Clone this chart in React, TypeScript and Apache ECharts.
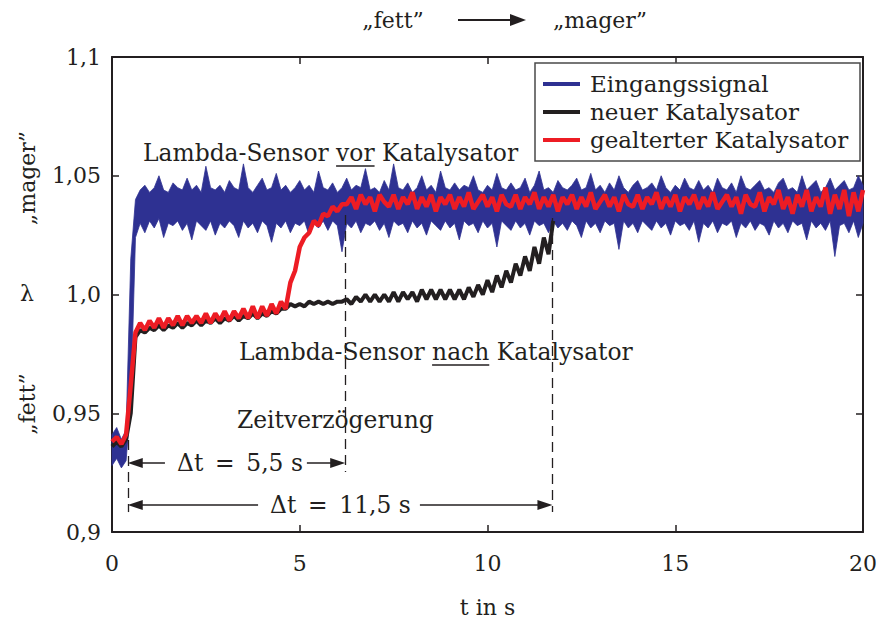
import React, { useEffect, useRef } from "react";
import * as echarts from "echarts";

// sampling step of all traces (s)
const DT = 0.125;

// Eingangssignal: upper and lower edge of the noisy band (lambda)
const blueHi = [
  0.941, 0.944, 0.939, 0.943, 1.015, 1.04,
  1.044, 1.046, 1.043, 1.045, 1.05, 1.044, 1.043, 1.047, 1.045, 1.044,
  1.049, 1.044, 1.046, 1.043, 1.054, 1.045, 1.044, 1.046, 1.043, 1.048,
  1.045, 1.044, 1.055, 1.045, 1.043, 1.046, 1.049, 1.044, 1.045, 1.051,
  1.044, 1.046, 1.043, 1.045, 1.048, 1.044, 1.046, 1.043, 1.052, 1.045,
  1.044, 1.047, 1.043, 1.045, 1.049, 1.044, 1.046, 1.045, 1.053, 1.044,
  1.045, 1.043, 1.048, 1.044, 1.055, 1.045, 1.044, 1.047, 1.043, 1.045,
  1.05, 1.044, 1.046, 1.043, 1.052, 1.045, 1.044, 1.047, 1.044, 1.046,
  1.045, 1.05, 1.044, 1.043, 1.046, 1.044, 1.051, 1.045, 1.044, 1.047,
  1.044, 1.045, 1.049, 1.043, 1.046, 1.052, 1.044, 1.045, 1.043, 1.048,
  1.045, 1.044, 1.046, 1.049, 1.044, 1.045, 1.051, 1.044, 1.046, 1.043,
  1.047, 1.044, 1.05, 1.045, 1.043, 1.046, 1.048, 1.044, 1.045, 1.047,
  1.044, 1.05, 1.045, 1.043, 1.046, 1.044, 1.049, 1.045, 1.044, 1.048,
  1.044, 1.046, 1.043, 1.049, 1.045, 1.044, 1.047, 1.043, 1.05, 1.045,
  1.044, 1.046, 1.048, 1.044, 1.045, 1.043, 1.047, 1.049, 1.044, 1.045,
  1.043, 1.05, 1.044, 1.046, 1.048, 1.043, 1.045, 1.049, 1.044, 1.046,
  1.048, 1.044, 1.045, 1.05, 1.046,
];
const blueLo = [
  0.928, 0.931, 0.927, 0.93, 0.955, 1.024,
  1.03, 1.026, 1.031, 1.028, 1.032, 1.024, 1.03, 1.029, 1.031, 1.027,
  1.03, 1.023, 1.031, 1.029, 1.027, 1.031, 1.025, 1.03, 1.028, 1.031,
  1.029, 1.024, 1.031, 1.028, 1.03, 1.026, 1.031, 1.029, 1.022, 1.03,
  1.028, 1.031, 1.026, 1.03, 1.029, 1.031, 1.025, 1.03, 1.028, 1.031,
  1.027, 1.031, 1.029, 1.018, 1.03, 1.028, 1.031, 1.026, 1.03, 1.029,
  1.031, 1.027, 1.03, 1.024, 1.031, 1.029, 1.03, 1.026, 1.031, 1.028,
  1.03, 1.025, 1.031, 1.029, 1.027, 1.031, 1.028, 1.03, 1.023, 1.031,
  1.029, 1.03, 1.026, 1.031, 1.028, 1.03, 1.02, 1.031, 1.029, 1.027,
  1.031, 1.028, 1.03, 1.025, 1.031, 1.029, 1.03, 1.026, 1.031, 1.028,
  1.03, 1.027, 1.031, 1.029, 1.024, 1.031, 1.028, 1.03, 1.026, 1.031,
  1.029, 1.03, 1.019, 1.031, 1.028, 1.03, 1.026, 1.031, 1.029, 1.027,
  1.031, 1.028, 1.03, 1.025, 1.031, 1.029, 1.03, 1.027, 1.031, 1.022,
  1.03, 1.028, 1.031, 1.026, 1.03, 1.029, 1.031, 1.024, 1.03, 1.028,
  1.031, 1.027, 1.03, 1.029, 1.025, 1.031, 1.028, 1.03, 1.026, 1.031,
  1.029, 1.03, 1.023, 1.031, 1.028, 1.03, 1.027, 1.031, 1.016, 1.029,
  1.03, 1.026, 1.031, 1.024, 1.03,
];

// gealterter Katalysator
const redLambda = [
  0.938, 0.94, 0.937, 0.941, 0.962, 0.984, 0.988, 0.985, 0.989, 0.986,
  0.99, 0.986, 0.99, 0.987, 0.991, 0.987, 0.991, 0.988, 0.991, 0.988,
  0.992, 0.988, 0.992, 0.989, 0.993, 0.989, 0.993, 0.99, 0.994, 0.99,
  0.995, 0.99, 0.995, 0.991, 0.996, 0.992, 0.997, 0.994, 1.005, 1.01,
  1.02, 1.024, 1.026, 1.031, 1.029, 1.034, 1.033, 1.037, 1.035, 1.038,
  1.038,
  1.041, 1.036, 1.042, 1.038, 1.041, 1.035, 1.042, 1.039, 1.037, 1.042,
  1.036, 1.041, 1.038, 1.043, 1.036, 1.041, 1.037, 1.042, 1.035, 1.041,
  1.038, 1.042, 1.036, 1.041, 1.037, 1.043, 1.036, 1.039, 1.042, 1.037,
  1.041, 1.035, 1.042, 1.038, 1.037, 1.042, 1.036, 1.041, 1.038, 1.043,
  1.036, 1.041, 1.037, 1.042, 1.035, 1.041, 1.038, 1.042, 1.036, 1.041,
  1.037, 1.043, 1.036, 1.039, 1.042, 1.037, 1.041, 1.035, 1.042, 1.038,
  1.037, 1.042, 1.036, 1.041, 1.038, 1.043, 1.036, 1.041, 1.037, 1.042,
  1.035, 1.041, 1.038, 1.042, 1.036, 1.041, 1.037, 1.043, 1.036, 1.039,
  1.042, 1.037, 1.041, 1.034, 1.042, 1.038, 1.037, 1.043, 1.035, 1.041,
  1.038, 1.044, 1.036, 1.041, 1.034, 1.042, 1.037, 1.044, 1.035, 1.041,
  1.037, 1.045, 1.034, 1.042, 1.036, 1.044, 1.033, 1.043, 1.035, 1.044,
];

// neuer Katalysator
const blackLambda = [
  0.936, 0.938, 0.936, 0.939, 0.95, 0.982, 0.985, 0.984, 0.986, 0.985,
  0.987, 0.985, 0.987, 0.986, 0.988, 0.986, 0.988, 0.987, 0.989, 0.987,
  0.989, 0.988, 0.99, 0.988, 0.99, 0.989, 0.991, 0.989, 0.991, 0.99,
  0.992, 0.99, 0.992, 0.991, 0.993, 0.992, 0.994, 0.994, 0.996, 0.995,
  0.996, 0.995, 0.997, 0.996, 0.997, 0.996, 0.997, 0.996, 0.997, 0.997,
  0.998, 0.996, 0.999, 0.997, 1.0, 0.997, 1.0, 0.997, 1.0, 0.997,
  1.001, 0.997, 1.001, 0.998, 1.001, 0.997, 1.002, 0.998, 1.002, 0.998,
  1.002, 0.998, 1.002, 0.998, 1.002, 0.998, 1.003, 0.999, 1.004, 1.0,
  1.006, 1.001, 1.008, 1.003, 1.01, 1.005, 1.013, 1.008, 1.016, 1.01,
  1.02, 1.013, 1.024, 1.017, 1.031,
];

// annotation positions (s / lambda)
const dashTimes = [0.43, 6.2, 11.72];
const dashFrom = [0.9387, 1.0335, 1.0322];
const dashTo = [0.9084, 0.9253, 0.9084];
const arrowLevels = [0.9291, 0.9114];
const xTickLabels = ["0", "5", "10", "15", "20"];
const yTickLabels = ["0,9", "0,95", "1,0", "1,05", "1,1"];

const FONT = "DejaVu Serif";
const INK = "#231f20";
const BLUE = "#2e3192";
const RED = "#ed1c24";

function measure(text: string, size: number) {
  const c = document.createElement("canvas").getContext("2d");
  if (!c) return text.length * size * 0.6;
  c.font = `${size}px "${FONT}"`;
  return c.measureText(text).width;
}

export default function App() {
  const ref = useRef<HTMLDivElement>(null);
  useEffect(() => {
    if (!ref.current) return;
    const chart = echarts.init(ref.current, null, { renderer: "svg" });

    const bandData = blueHi.map((v, i) => [i * DT, blueLo[i], v]);
    const redData = redLambda.map((v, i) => [i * DT, v]);
    const blackData = blackLambda.map((v, i) => [i * DT, v]);

    const dashLines = dashTimes.map((t, i) => [
      { coord: [t, dashFrom[i]] },
      { coord: [t, dashTo[i]] },
    ]);
    const arrowHead = { symbol: "triangle", symbolSize: [10, 15] };
    const arrowLines = [
      [{ coord: [0.62, arrowLevels[0]], ...arrowHead }, { coord: [1.41, arrowLevels[0]], symbol: "none" }],
      [{ coord: [5.19, arrowLevels[0]], symbol: "none" }, { coord: [6.01, arrowLevels[0]], ...arrowHead }],
      [{ coord: [0.62, arrowLevels[1]], ...arrowHead }, { coord: [3.89, arrowLevels[1]], symbol: "none" }],
      [{ coord: [8.2, arrowLevels[1]], symbol: "none" }, { coord: [11.53, arrowLevels[1]], ...arrowHead }],
    ];

    const TS = 23.4;
    const txt = (text: string, x: number, y: number, extra: any = {}) => ({
      type: "text",
      x,
      y,
      z: 100,
      silent: true,
      style: {
        text,
        fill: INK,
        font: `${extra.size || TS}px "${FONT}"`,
        align: "left",
        verticalAlign: "middle",
        ...(extra.style || {}),
      },
      ...(extra.rest || {}),
    });

    // underline positions derived from the text metrics
    const vorX = 143 + measure("Lambda-Sensor ", TS);
    const vorW = measure("vor", TS);
    const nachX = 239 + measure("Lambda-Sensor ", TS);
    const nachW = measure("nach", TS);

    const axisCommon = {
      type: "value",
      min: 0,
      max: 20,
      interval: 5,
      splitLine: { show: false },
      axisLine: { show: true, onZero: false, lineStyle: { color: INK, width: 2 } },
      axisTick: { show: true, inside: true, length: 7, lineStyle: { color: INK, width: 1.5 } },
    };
    const yCommon = {
      type: "value",
      min: 0.9,
      max: 1.1,
      interval: 0.05,
      splitLine: { show: false },
      axisLine: { show: true, onZero: false, lineStyle: { color: INK, width: 2 } },
      axisTick: { show: true, inside: true, length: 7, lineStyle: { color: INK, width: 1.5 } },
    };

    chart.setOption({
      animation: false,
      backgroundColor: "#ffffff",
      grid: { left: 112, right: 19, top: 57, bottom: 96, containLabel: false },
      xAxis: [
        {
          ...axisCommon,
          position: "bottom",
          name: "t in s",
          nameLocation: "middle",
          nameGap: 64,
          nameTextStyle: { fontFamily: FONT, fontSize: 22, color: INK },
          axisLabel: {
            fontFamily: FONT,
            fontSize: 22,
            color: INK,
            margin: 20,
            formatter: (_v: number, i: number) => xTickLabels[i],
          },
        },
        { ...axisCommon, position: "top", axisLabel: { show: false } },
      ],
      yAxis: [
        {
          ...yCommon,
          position: "left",
          axisLabel: {
            fontFamily: FONT,
            fontSize: 22,
            color: INK,
            margin: 11,
            formatter: (_v: number, i: number) => yTickLabels[i],
          },
        },
        { ...yCommon, position: "right", axisLabel: { show: false } },
      ],
      series: [
        {
          name: "Eingangssignal",
          type: "custom",
          data: bandData,
          encode: { x: 0, y: [1, 2] },
          silent: true,
          z: 2,
          renderItem: (params: any, api: any) => {
            if (params.dataIndex !== 0) return null;
            const upper = bandData.map((d) => api.coord([d[0], d[2]]));
            const lower = bandData.map((d) => api.coord([d[0], d[1]])).reverse();
            return {
              type: "polygon",
              shape: { points: upper.concat(lower) },
              style: { fill: BLUE, stroke: BLUE, lineWidth: 0.8 },
            };
          },
        },
        {
          name: "neuer Katalysator",
          type: "line",
          data: blackData,
          symbol: "none",
          silent: true,
          lineStyle: { color: INK, width: 4 },
          z: 3,
          markLine: {
            silent: true,
            symbol: "none",
            label: { show: false },
            lineStyle: { color: INK, width: 1.3, type: [10, 6] },
            data: dashLines,
            z: 5,
          },
        },
        {
          name: "gealterter Katalysator",
          type: "line",
          data: redData,
          symbol: "none",
          silent: true,
          lineStyle: { color: RED, width: 4.5 },
          z: 4,
          markLine: {
            silent: true,
            label: { show: false },
            lineStyle: { color: INK, width: 1.5, type: "solid" },
            itemStyle: { color: INK },
            data: arrowLines,
            z: 5,
          },
        },
      ],
      graphic: [
        // top annotation
        txt("„fett”", 393, 20, { size: 22, style: { align: "center" } }),
        { type: "line", z: 100, silent: true, shape: { x1: 458, y1: 20, x2: 512, y2: 20 }, style: { stroke: INK, lineWidth: 2 } },
        { type: "polygon", z: 100, silent: true, shape: { points: [[510, 14], [526, 20], [510, 26]] }, style: { fill: INK } },
        txt("„mager”", 600, 20, { size: 22, style: { align: "center" } }),
        // left side annotations
        txt("„mager”", 27, 178, { size: 22, style: { align: "center" }, rest: { rotation: Math.PI / 2 } }),
        txt("λ", 27, 293, { size: 22, style: { align: "center" } }),
        txt("„fett”", 27, 404, { size: 22, style: { align: "center" }, rest: { rotation: Math.PI / 2 } }),
        // in-plot texts
        txt("Lambda-Sensor vor Katalysator", 143, 153),
        { type: "line", z: 100, silent: true, shape: { x1: vorX, y1: 166, x2: vorX + vorW, y2: 166 }, style: { stroke: INK, lineWidth: 1.3 } },
        txt("Lambda-Sensor nach Katalysator", 239, 352),
        { type: "line", z: 100, silent: true, shape: { x1: nachX, y1: 365, x2: nachX + nachW, y2: 365 }, style: { stroke: INK, lineWidth: 1.3 } },
        txt("Zeitverzögerung", 237, 420),
        txt("Δt\u2002=\u20025,5 s", 177, 463),
        txt("Δt\u2002=\u200211,5 s", 270, 505),
        // legend
        {
          type: "rect",
          z: 100,
          silent: true,
          shape: { x: 535, y: 63, width: 325, height: 98 },
          style: { fill: "#ffffff", stroke: "#4a4a4a", lineWidth: 1.5 },
        },
        { type: "line", z: 101, silent: true, shape: { x1: 543, y1: 84, x2: 580, y2: 84 }, style: { stroke: BLUE, lineWidth: 4 } },
        { type: "line", z: 101, silent: true, shape: { x1: 543, y1: 112, x2: 580, y2: 112 }, style: { stroke: INK, lineWidth: 4 } },
        { type: "line", z: 101, silent: true, shape: { x1: 543, y1: 140, x2: 580, y2: 140 }, style: { stroke: RED, lineWidth: 4 } },
        { ...txt("Eingangssignal", 590, 84, { size: 23 }), z: 101 },
        { ...txt("neuer Katalysator", 590, 112, { size: 23 }), z: 101 },
        { ...txt("gealterter Katalysator", 590, 140, { size: 23 }), z: 101 },
      ],
    });
    return () => chart.dispose();
  }, []);
  return (
    <div
      ref={ref}
      style={{ position: "fixed", left: 0, top: 0, width: 882, height: 628, background: "#fff" }}
    />
  );
}
